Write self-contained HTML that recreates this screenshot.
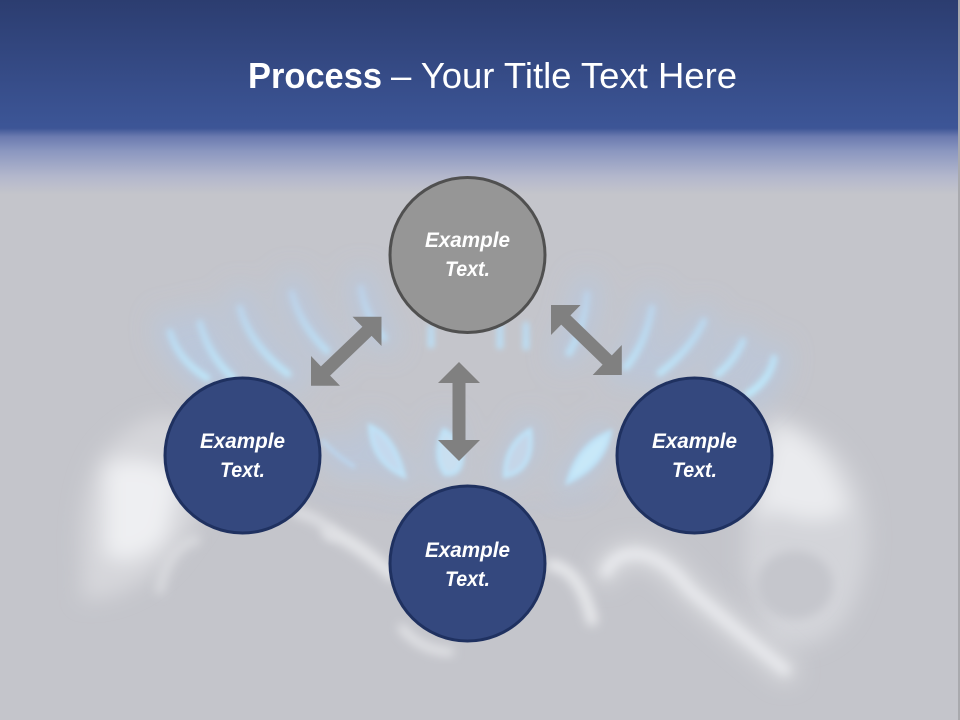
<!DOCTYPE html>
<html>
<head>
<meta charset="utf-8">
<style>
html,body{margin:0;padding:0;background:#c5c6cb;width:960px;height:720px;overflow:hidden}
svg{display:block}
text{font-family:"Liberation Sans",sans-serif;fill:#fff}
.n{font-size:21px;font-weight:bold;font-style:italic}
</style>
</head>
<body>
<svg width="960" height="720" viewBox="0 0 960 720" xmlns="http://www.w3.org/2000/svg">
<defs>
<linearGradient id="bg" x1="0" y1="0" x2="0" y2="1">
<stop offset="0" stop-color="#2c3d70"/>
<stop offset="0.174" stop-color="#3c5596"/>
<stop offset="0.178" stop-color="#3d5596"/>
<stop offset="0.19" stop-color="#6c7bb0"/>
<stop offset="0.21" stop-color="#8b97c0"/>
<stop offset="0.245" stop-color="#b3b7cc"/>
<stop offset="0.27" stop-color="#c4c5cb"/>
<stop offset="1" stop-color="#c4c5cb"/>
</linearGradient>
<linearGradient id="fl" gradientUnits="userSpaceOnUse" x1="0" y1="285" x2="0" y2="395">
<stop offset="0" stop-color="#bdd0e6"/>
<stop offset="0.5" stop-color="#bcdcf2"/>
<stop offset="1" stop-color="#bfeafc"/>
</linearGradient>
<filter id="b2" x="-50%" y="-50%" width="200%" height="200%"><feGaussianBlur stdDeviation="3"/></filter>
<filter id="b1" x="-50%" y="-50%" width="200%" height="200%"><feGaussianBlur stdDeviation="2.4"/></filter>
<filter id="b5" x="-50%" y="-50%" width="200%" height="200%"><feGaussianBlur stdDeviation="5"/></filter>
<filter id="b9" x="-50%" y="-50%" width="200%" height="200%"><feGaussianBlur stdDeviation="10"/></filter>
<filter id="b12" x="-50%" y="-50%" width="200%" height="200%"><feGaussianBlur stdDeviation="14"/></filter>
</defs>

<rect width="960" height="720" fill="url(#bg)"/>
<rect x="958" y="0" width="2" height="720" fill="#a9aaae"/>

<!-- hands -->
<g filter="url(#b9)">
<path d="M82 570 Q75 480 110 445 Q150 405 185 420 L200 520 L170 560 Q130 600 82 600 Z" fill="#d5d6da"/>
<path d="M105 465 Q150 450 180 480 L165 540 Q130 570 105 555 Z" fill="#eeeff2"/>
<path d="M765 412 Q835 425 862 490 Q880 560 845 620 Q810 660 770 640 L745 570 L745 480 Z" fill="#d3d4d9"/>
<path d="M775 425 Q830 440 848 510 Q820 530 775 510 L755 520 Z" fill="#eaebee"/>
</g>
<ellipse cx="795" cy="585" rx="38" ry="34" fill="#c5c6cc" filter="url(#b5)"/>
<g fill="none" stroke-linecap="round">
<path d="M160 590 Q168 545 196 540" stroke="#dadbdf" stroke-width="9" filter="url(#b5)"/>
<path d="M330 532 Q360 545 392 575" stroke="#e4e5e8" stroke-width="13" filter="url(#b5)"/>
<path d="M296 512 Q325 520 332 535" stroke="#dedfe3" stroke-width="10" filter="url(#b5)"/>
<path d="M402 628 Q420 650 450 652" stroke="#e5e6e9" stroke-width="8" filter="url(#b5)"/>
<path d="M606 572 Q615 552 640 554 Q665 558 690 590 Q730 625 785 670" stroke="#d8d9dd" stroke-width="26" filter="url(#b9)"/>
<path d="M606 572 Q615 552 640 554 Q665 558 690 590 Q730 625 785 670" stroke="#e8e9ed" stroke-width="10" filter="url(#b5)"/>
<path d="M552 565 Q580 570 592 620" stroke="#e6e7ea" stroke-width="12" filter="url(#b5)"/>
</g>

<!-- flames: glow -->
<g fill="none" stroke="#b4c9e6" stroke-linecap="round" stroke-width="24" filter="url(#b12)" opacity=".7">
<path d="M168 325 Q175 360 215 385"/>
<path d="M200 318 Q210 355 240 385"/>
<path d="M240 300 Q250 345 295 380"/>
<path d="M292 285 Q300 325 332 355"/>
<path d="M361 282 Q365 315 385 340"/>
<path d="M587 288 Q585 325 565 355"/>
<path d="M652 302 Q645 345 622 372"/>
<path d="M704 318 Q690 350 655 378"/>
<path d="M743 338 Q735 360 715 378"/>
<path d="M775 355 Q770 385 745 400"/>
<path d="M328 447 L355 467"/><path d="M372 430 Q378 460 402 475"/>
<path d="M445 430 L445 475"/><path d="M530 430 Q520 460 505 475"/>
<path d="M600 435 Q590 465 568 482"/>
</g>
<!-- flames: core -->
<g fill="none" stroke="url(#fl)" stroke-linecap="round" stroke-width="7" filter="url(#b2)">
<path d="M170 332 Q178 360 207 378"/>
<path d="M200 323 Q208 355 233 378"/>
<path d="M240 308 Q250 345 288 374"/>
<path d="M292 293 Q300 325 327 351"/>
<path d="M361 288 Q365 315 384 338"/>
<path d="M431 328 L431 345"/>
<path d="M500 325 L500 346"/><path d="M526 325 L526 347"/>
<path d="M587 294 Q585 325 569 353"/>
<path d="M652 308 Q645 345 626 367"/>
<path d="M704 321 Q690 350 660 373"/>
<path d="M743 341 Q735 360 718 374"/>
<path d="M774 358 Q770 380 748 394"/>
</g>
<path d="M322 440 Q335 455 355 467" fill="none" stroke="#bcd6ee" stroke-width="4" filter="url(#b1)"/>
<g stroke="#bfe3f8" stroke-width="4" filter="url(#b1)">
<path d="M370 426 Q394 436 404 476 Q372 462 370 426 Z" fill="#c4d9ee"/>
<path d="M444 430 Q432 455 445 474 Q462 476 462 455 Q458 438 444 430 Z" fill="#c9dff0"/>
<path d="M530 430 Q505 445 505 476 Q535 470 530 430 Z" fill="#c5d6e8"/>
<path d="M610 432 Q578 445 568 482 Q604 465 610 432 Z" fill="#c8e8f8"/>
</g>
<!-- burner ring -->
<path d="M310 495 Q460 530 610 495" fill="none" stroke="#b6c0d4" stroke-width="4" filter="url(#b5)" opacity=".5"/>

<!-- arrows -->
<g fill="#808080">
<polygon points="381.5,316.7 352.5,316.7 362.4,326.7 320.9,366.4 311,356 311,385.7 340,385.7 330.1,375.6 371.6,335.9 381.5,346"/>
<polygon points="551,305 580.6,305 570.4,315.4 611.8,355.4 621.8,345 621.8,375 592.7,375 602.6,364.6 561.2,324.6 551,335"/>
<polygon points="459,362 480,383 465.5,383 465.5,440 480,440 459,461 438,440 452.5,440 452.5,383 438,383"/>
</g>

<!-- circles -->
<circle cx="467.5" cy="255" r="77.5" fill="#969696" stroke="#505050" stroke-width="3"/>
<circle cx="242.5" cy="455.5" r="77.5" fill="#34487e" stroke="#1f3160" stroke-width="3"/>
<circle cx="694.5" cy="455.5" r="77.5" fill="#34487e" stroke="#1f3160" stroke-width="3"/>
<circle cx="467.5" cy="563.5" r="77.5" fill="#34487e" stroke="#1f3160" stroke-width="3"/>

<!-- title -->
<text x="248" y="88" font-size="36" font-weight="bold" textLength="134" lengthAdjust="spacingAndGlyphs">Process</text>
<text x="391" y="88" font-size="36" textLength="346" lengthAdjust="spacingAndGlyphs">– Your Title Text Here</text>

<!-- labels -->
<text class="n" x="425" y="247" textLength="85" lengthAdjust="spacingAndGlyphs">Example</text>
<text class="n" x="445" y="276" textLength="45" lengthAdjust="spacingAndGlyphs">Text.</text>
<text class="n" x="200" y="448" textLength="85" lengthAdjust="spacingAndGlyphs">Example</text>
<text class="n" x="220" y="477" textLength="45" lengthAdjust="spacingAndGlyphs">Text.</text>
<text class="n" x="652" y="448" textLength="85" lengthAdjust="spacingAndGlyphs">Example</text>
<text class="n" x="672" y="477" textLength="45" lengthAdjust="spacingAndGlyphs">Text.</text>
<text class="n" x="425" y="557" textLength="85" lengthAdjust="spacingAndGlyphs">Example</text>
<text class="n" x="445" y="586" textLength="45" lengthAdjust="spacingAndGlyphs">Text.</text>
</svg>
</body>
</html>
